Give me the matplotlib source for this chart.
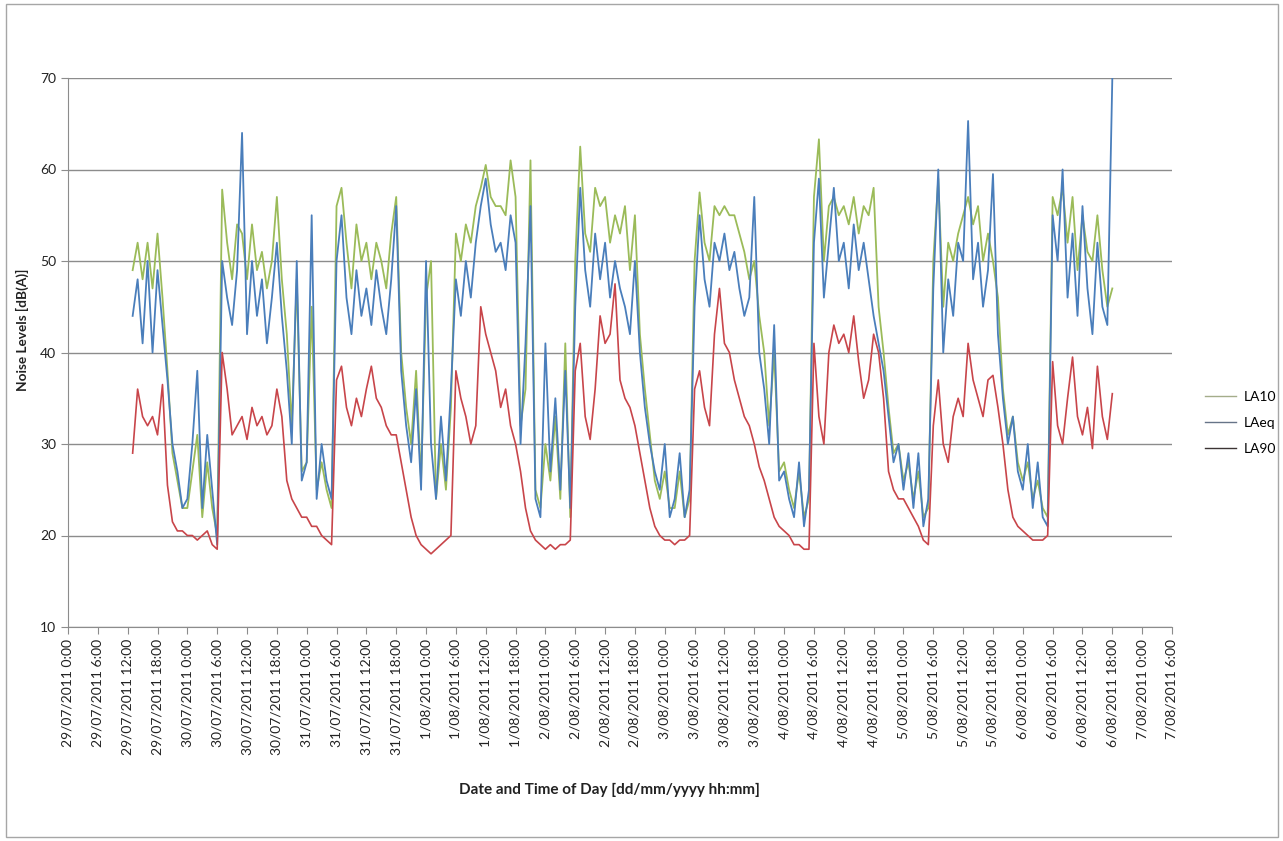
import numpy as np
import matplotlib
matplotlib.use('Agg')
import matplotlib.pyplot as plt
import matplotlib.dates as mdates
import pandas as pd
from matplotlib.patches import Rectangle
from matplotlib.lines import Line2D

plt.rcParams['font.family'] = ['Lato', 'DejaVu Sans']

# hourly readings from 29/07/2011 13:00 to 6/08/2011 18:00
start = '2011-07-29 13:00'

laeq = [
    44, 48, 41, 50, 40, 49, 43, 37, 30, 27, 23,  # 29/07
    24, 30, 38, 23, 31, 25, 19, 50, 46, 43, 49, 64, 42, 50, 44, 48, 41, 46, 52, 44, 38, 30, 50, 26,  # 30/07
    28, 55, 24, 30, 26, 24, 50, 55, 46, 42, 49, 44, 47, 43, 49, 45, 42, 48, 56, 38, 32, 28, 36, 25,  # 31/07
    50, 30, 24, 33, 26, 36, 48, 44, 50, 46, 52, 56, 59, 54, 51, 52, 49, 55, 52, 30, 41, 56, 24, 22,  # 1/08
    41, 27, 35, 25, 38, 23, 45, 58, 49, 45, 53, 48, 52, 46, 50, 47, 45, 42, 50, 40, 34, 30, 27, 25,  # 2/08
    30, 22, 24, 29, 22, 25, 45, 55, 48, 45, 52, 50, 53, 49, 51, 47, 44, 46, 57, 40, 36, 30, 43, 26,  # 3/08
    27, 24, 22, 28, 21, 25, 52, 59, 46, 52, 58, 50, 52, 47, 54, 49, 52, 48, 44, 41, 38, 33, 28, 30,  # 4/08
    25, 29, 23, 29, 21, 24, 47, 60, 40, 48, 44, 52, 50, 65.3, 48, 52, 45, 49, 59.5, 42, 35, 30, 33, 27,  # 5/08
    25, 30, 23, 28, 22, 21, 55, 50, 60, 46, 53, 44, 56, 47, 42, 52, 45, 43, 70,  # 6/08
]

la10 = [
    49, 52, 48, 52, 47, 53, 46, 38, 29, 26, 23,
    23, 27, 31, 22, 28, 23, 20, 57.8, 52, 48, 54, 53, 48, 54, 49, 51, 47, 50, 57, 48, 42, 32, 48, 27,
    28, 45, 25, 28, 25, 23, 56, 58, 52, 47, 54, 50, 52, 48, 52, 50, 47, 53, 57, 40, 34, 30, 38, 26,
    46, 50, 24, 30, 25, 34, 53, 50, 54, 52, 56, 58, 60.5, 57, 56, 56, 55, 61, 57, 32, 36, 61, 25, 23,
    30, 26, 33, 24, 41, 22, 50, 62.5, 53, 51, 58, 56, 57, 52, 55, 53, 56, 49, 55, 42, 36, 31, 26, 24,
    27, 23, 23, 27, 22, 24, 50, 57.5, 52, 50, 56, 55, 56, 55, 55, 53, 51, 48, 50, 44, 40, 32, 40, 27,
    28, 25, 23, 27, 22, 24, 57, 63.3, 50, 56, 57, 55, 56, 54, 57, 53, 56, 55, 58, 45, 40, 34, 29, 30,
    26, 28, 24, 27, 22, 23, 50, 59, 45, 52, 50, 53, 55, 57, 54, 56, 50, 53, 50, 46, 36, 31, 33, 28,
    26, 28, 24, 26, 23, 22, 57, 55, 58, 52, 57, 49, 55, 51, 50, 55, 49, 45, 47,
]

la90 = [
    29, 36, 33, 32, 33, 31, 36.5, 25.5, 21.5, 20.5, 20.5,
    20, 20, 19.5, 20, 20.5, 19, 18.5, 40, 36, 31, 32, 33, 30.5, 34, 32, 33, 31, 32, 36, 33, 26, 24, 23, 22,
    22, 21, 21, 20, 19.5, 19, 37, 38.5, 34, 32, 35, 33, 36, 38.5, 35, 34, 32, 31, 31, 28, 25, 22, 20, 19,
    18.5, 18, 18.5, 19, 19.5, 20, 38, 35, 33, 30, 32, 45, 42, 40, 38, 34, 36, 32, 30, 27, 23, 20.5, 19.5, 19,
    18.5, 19, 18.5, 19, 19, 19.5, 38, 41, 33, 30.5, 36, 44, 41, 42, 47.5, 37, 35, 34, 32, 29, 26, 23, 21, 20,
    19.5, 19.5, 19, 19.5, 19.5, 20, 36, 38, 34, 32, 42, 47, 41, 40, 37, 35, 33, 32, 30, 27.5, 26, 24, 22, 21,
    20.5, 20, 19, 19, 18.5, 18.5, 41, 33, 30, 40, 43, 41, 42, 40, 44, 39, 35, 37, 42, 40, 35, 27, 25, 24,
    24, 23, 22, 21, 19.5, 19, 32, 37, 30, 28, 33, 35, 33, 41, 37, 35, 33, 37, 37.5, 34, 30, 25, 22, 21,
    20.5, 20, 19.5, 19.5, 19.5, 20, 39, 32, 30, 35, 39.5, 33, 31, 34, 29.5, 38.5, 33, 30.5, 35.5,
]

series_names = ['LA10', 'LAeq', 'LA90']

times = pd.date_range(start, periods=len(laeq), freq='h')
x = mdates.date2num(times.to_pydatetime())

W, H = 1283, 841
fig = plt.figure(figsize=(W / 100, H / 100), dpi=100)
ax = fig.add_axes([68 / W, 1 - 627 / H, (1172 - 68) / W, (627 - 78) / H])

ax.plot(x, la10, color='#9bbb59', lw=1.3)
ax.plot(x, laeq, color='#4a7ebb', lw=1.3)
ax.plot(x, la90, color='#c8454a', lw=1.2)

ax.set_ylim(10, 70)
ax.set_yticks(range(10, 71, 10))
ticks = pd.date_range('2011-07-29 00:00', '2011-08-07 06:00', freq='6h')
tx = mdates.date2num(ticks.to_pydatetime())
ax.set_xlim(tx[0], tx[-1])
ax.set_xticks(tx)
ax.set_xticklabels([f"{t.day}/{t.month:02d}/{t.year} {t.hour}:{t.minute:02d}" for t in ticks],
                   rotation=90)

ax.grid(axis='y', color='#8c8c8c', lw=1)
ax.set_axisbelow(True)
for s in ['top', 'right']:
    ax.spines[s].set_visible(False)
for s in ['left', 'bottom']:
    ax.spines[s].set_color('#8c8c8c')
ax.tick_params(direction='out', length=5, color='#8c8c8c', labelsize=10, labelcolor='#222222')

fig.text(22 / W, 1 - 330 / H, 'Noise Levels [dB(A)]', rotation=90, ha='center', va='center',
         fontsize=9.8, fontweight='bold', color='#222222')
fig.text(609 / W, 1 - 790 / H, 'Date and Time of Day [dd/mm/yyyy hh:mm]', ha='center', va='center',
         fontsize=11, fontweight='bold', color='#222222')

handles = [Line2D([], [], color=c, lw=1) for c in ['#a4ad8a', '#667488', '#3c3434']]
fig.legend(handles, series_names, loc='center left', bbox_to_anchor=(1192 / W, 1 - 423 / H),
           frameon=False, handlelength=2.3, labelspacing=1.0, fontsize=10, handletextpad=0.5)

fig.patches.append(Rectangle((6 / W, 4 / H), (1278 - 6) / W, (837 - 4) / H, transform=fig.transFigure,
                             fill=False, edgecolor='#a6a6a6', lw=1))

fig.savefig('out.png', dpi=100)
